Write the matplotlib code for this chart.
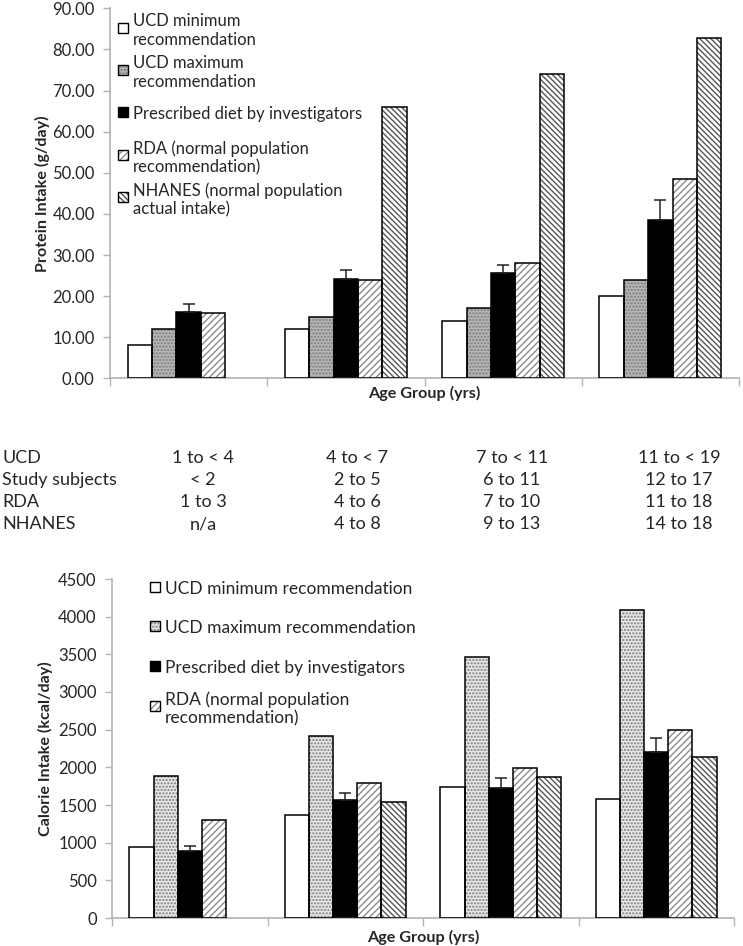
import numpy as np
import matplotlib.pyplot as plt
from matplotlib.patches import Rectangle

plt.rcParams['font.family'] = ['Lato', 'DejaVu Sans']

groups = ['1', '2', '3', '4']
series = ['UCD minimum recommendation', 'UCD maximum recommendation',
          'Prescribed diet by investigators',
          'RDA (normal population recommendation)',
          'NHANES (normal population actual intake)']

protein_min = [8.0, 12.0, 14.0, 20.0]
protein_max = [12.0, 15.0, 17.0, 24.0]
protein_rx = [16.2, 24.2, 25.5, 38.4]
protein_rx_err = [1.8, 2.2, 2.1, 5.0]
protein_rda = [16.0, 24.0, 28.0, 48.5]
protein_nhanes = [np.nan, 66.0, 74.0, 82.9]

calorie_min = [940, 1367, 1733, 1580]
calorie_max = [1890, 2410, 3460, 4095]
calorie_rx = [885, 1565, 1720, 2199]
calorie_rx_err = [75, 90, 134, 194]
calorie_rda = [1297, 1796, 1995, 2495]
calorie_nhanes = [np.nan, 1536, 1867, 2141]

table_rows = ['UCD', 'Study subjects', 'RDA', 'NHANES']
table_cells = [['1 to < 4', '4 to < 7', '7 to < 11', '11 to < 19'],
               ['< 2', '2 to 5', '6 to 11', '12 to 17'],
               ['1 to 3', '4 to 6', '7 to 10', '11 to 18'],
               ['n/a', '4 to 8', '9 to 13', '14 to 18']]

protein_legend = ['UCD minimum\nrecommendation', 'UCD maximum\nrecommendation',
                  'Prescribed diet by investigators',
                  'RDA (normal population\nrecommendation)',
                  'NHANES (normal population\nactual intake)']
calorie_legend = ['UCD minimum recommendation', 'UCD maximum recommendation',
                  'Prescribed diet by investigators',
                  'RDA (normal population\nrecommendation)']

W, H = 743, 946
fig = plt.figure(figsize=(W / 100, H / 100), dpi=100)
AX_GREY = '#b3b3b3'
TXT = '#262626'


def style(face_max):
    # face, hatch, hatch colour for each series
    return [('white', '', 'black'),
            (face_max, '.....', '#7a7a7a'),
            ('black', '', 'black'),
            ('white', '/////', '#8c8c8c'),
            ('white', '\\\\\\\\\\\\', '#555555')]


def draw_bars(ax, data, err, styles):
    x = np.arange(len(groups))
    bw = 0.155
    for i, vals in enumerate(data):
        vals = np.array(vals, dtype=float)
        ok = ~np.isnan(vals)
        xs = x[ok] + (i - 2) * bw
        face, hatch, hcol = styles[i]
        ax.bar(xs, vals[ok], bw, color=face, hatch=hatch, edgecolor=hcol,
               linewidth=0, zorder=2)
        ax.bar(xs, vals[ok], bw, fill=False, edgecolor='black',
               linewidth=1.1, zorder=3)
        if i == 2:
            ax.errorbar(xs, vals[ok], yerr=[np.zeros(len(err)), err],
                        fmt='none', ecolor='#222222', elinewidth=1.1,
                        capsize=4, capthick=1.1, zorder=4)
    ax.set_xlim(-0.5, len(groups) - 0.5)
    ax.set_xticks(np.arange(len(groups) + 1) - 0.5)
    ax.set_xticklabels([])
    ax.tick_params(axis='x', length=6, color=AX_GREY, width=1)
    ax.tick_params(axis='y', length=5, color=AX_GREY, width=1,
                   labelsize=12, labelcolor=TXT, pad=6)
    for s in ['top', 'right']:
        ax.spines[s].set_visible(False)
    for s in ['left', 'bottom']:
        ax.spines[s].set_color(AX_GREY)
        ax.spines[s].set_linewidth(1.2)


def draw_legend(labels, styles, x0, ys, size):
    for lab, st, y in zip(labels, styles, ys):
        face, hatch, hcol = st
        for kw in [dict(facecolor=face, hatch=hatch, edgecolor=hcol, linewidth=0),
                   dict(fill=False, edgecolor='black', linewidth=1)]:
            fig.add_artist(Rectangle((x0 / W, 1 - (y + 5) / H), 10 / W, 10 / H,
                                     transform=fig.transFigure, **kw))
        fig.text((x0 + 15) / W, 1 - y / H, lab, fontsize=size, color=TXT,
                 va='center_baseline', ha='left', linespacing=1.2)


# protein chart
ax1 = fig.add_axes([110 / W, 1 - 378.3 / H, 629 / W, 369.9 / H])
st1 = style('#b5b5b5')
draw_bars(ax1, [protein_min, protein_max, protein_rx, protein_rda, protein_nhanes],
          protein_rx_err, st1)
ax1.set_ylim(0, 90)
ax1.set_yticks(np.arange(0, 91, 10))
ax1.set_yticklabels([f'{v:.2f}' for v in np.arange(0, 91, 10)])
ax1.set_ylabel('Protein Intake (g/day)', fontsize=11.6, fontweight='bold', color=TXT)
ax1.yaxis.set_label_coords(-0.095, 0.5)
ax1.text(0.5, -0.04, 'Age Group (yrs)', transform=ax1.transAxes, ha='center',
         va='center', fontsize=11.6, fontweight='bold', color=TXT)

draw_legend(protein_legend, st1, 118, [28, 70, 112, 155, 197], 12)

# age table
row_y = [458, 480, 502, 524]
col_x = [203, 357, 512, 679]
for r, lab in enumerate(table_rows):
    fig.text(2 / W, 1 - row_y[r] / H, lab, fontsize=13, color=TXT,
             ha='left', va='center')
    for c, cell in enumerate(table_cells[r]):
        fig.text(col_x[c] / W, 1 - row_y[r] / H, cell, fontsize=13,
                 color=TXT, ha='center', va='center')

# calorie chart
ax2 = fig.add_axes([112 / W, 1 - 918 / H, 622 / W, 339 / H])
st2 = style('#e6e6e6')
draw_bars(ax2, [calorie_min, calorie_max, calorie_rx, calorie_rda, calorie_nhanes],
          calorie_rx_err, st2)
ax2.set_ylim(0, 4500)
ax2.set_yticks(np.arange(0, 4501, 500))
ax2.set_ylabel('Calorie Intake (kcal/day)', fontsize=11.6, fontweight='bold', color=TXT)
ax2.yaxis.set_label_coords(-0.095, 0.5)
ax2.text(0.5, -0.056, 'Age Group (yrs)', transform=ax2.transAxes, ha='center',
         va='center', fontsize=11.6, fontweight='bold', color=TXT)

draw_legend(calorie_legend, st2[:4], 150, [587, 626, 666, 706], 12.5)

fig.savefig('out.png', dpi=100)
